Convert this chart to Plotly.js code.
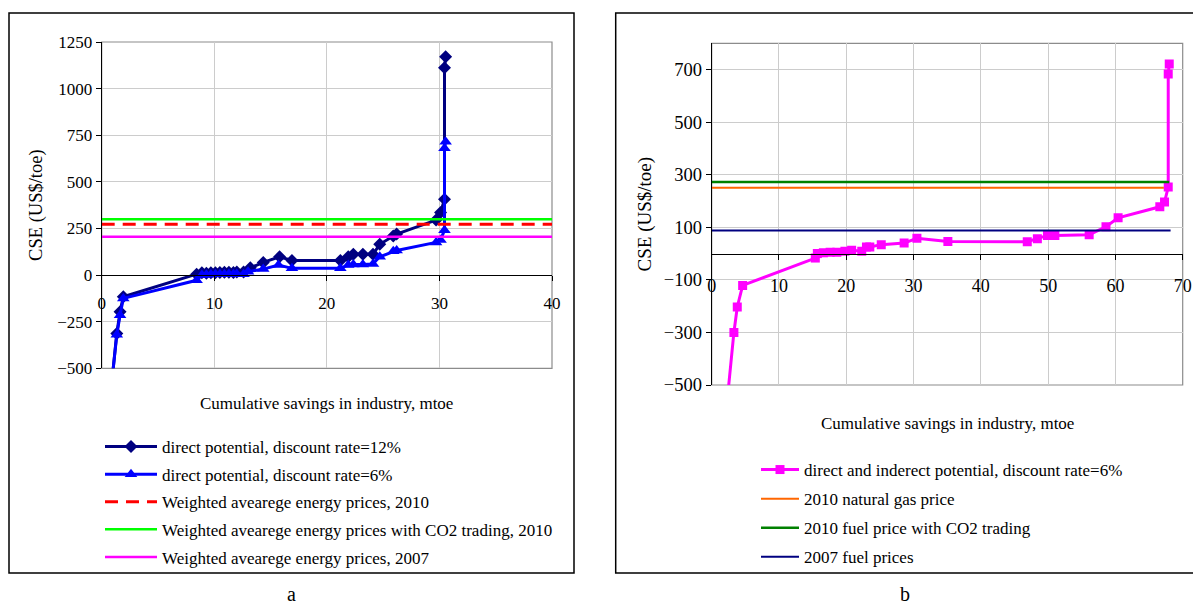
<!DOCTYPE html>
<html>
<head>
<meta charset="utf-8">
<script src="https://cdn.plot.ly/plotly-3.0.1.min.js"></script>
<style>html,body{margin:0;padding:0;background:#fff}#chart{width:1193px;height:607px}</style>
</head>
<body>
<div id="chart"></div>
<script>
// ---------- Data: chart a ----------
const xDirect12 = [0.92, 1.34, 1.63, 1.92, 8.43, 8.9, 9.3, 9.7, 10.1, 10.5, 10.9, 11.3, 11.7, 12.0, 12.6, 13.2, 14.35, 15.8, 16.9, 21.2, 21.9, 22.35, 23.2, 24.1, 24.7, 25.9, 26.2, 29.7, 30.1, 30.45, 30.45, 30.55];
const yDirect12 = [-560, -313, -197, -116, 5, 12, 10, 12, 13, 14, 15, 15, 14, 17, 16, 39, 68, 98, 78, 78, 98, 111, 111, 111, 165, 210, 220, 295, 336, 406, 1112, 1171];
const xDirect6 = [0.92, 1.34, 1.63, 1.92, 8.43, 8.9, 9.3, 9.7, 10.1, 10.5, 10.9, 11.3, 11.7, 12.0, 12.6, 13.0, 14.35, 15.7, 16.9, 21.2, 21.9, 22.35, 23.2, 24.1, 24.7, 25.9, 26.2, 29.7, 30.1, 30.45, 30.45, 30.55];
const yDirect6 = [-560, -320, -215, -125, -28, 0, 2, 3, 4, 5, 5, 6, 5, 6, 5, 18, 32, 54, 36, 36, 54, 57, 57, 60, 98, 128, 132, 175, 188, 241, 680, 715];
const xPriceA = [0, 40.5];
const yPrice2010 = [272, 272];
const yPriceCO2_2010 = [300, 300];
const yPrice2007 = [205, 205];
const namesA = ["direct potential, discount rate=12%", "direct potential, discount rate=6%", "Weighted avearege energy prices, 2010", "Weighted avearege energy prices with CO2 trading, 2010", "Weighted avearege energy prices, 2007"];

// ---------- Data: chart b ----------
const xIndirect6 = [2.3, 3.3, 3.8, 4.6, 15.4, 15.7, 16.6, 17.6, 18.6, 19.8, 20.8, 22.3, 23.0, 23.5, 25.2, 28.6, 30.5, 35.1, 46.9, 48.4, 49.9, 51.0, 56.1, 58.6, 60.4, 66.6, 67.3, 67.85, 67.85, 68.0];
const yIndirect6 = [-560, -300, -203, -121, -17, 0, 3, 5, 5, 9, 13, 9, 25, 25, 34, 40, 58, 46, 45, 56, 69, 69, 72, 102, 136, 178, 196, 253, 683, 721];
const xGas2010 = [0, 67.2];
const yGas2010 = [250, 250];
const xFuelCO2 = [0, 68];
const yFuelCO2 = [272, 272];
const xFuel2007 = [0, 68.2];
const yFuel2007 = [88, 88];
const namesB = ["direct and inderect potential, discount rate=6%", "2010 natural gas price", "2010 fuel price with CO2 trading", "2007 fuel prices"];

// axis ticks
const yTicksA = [-500, -250, 0, 250, 500, 750, 1000, 1250];
const yTicksB = [-500, -300, -100, 100, 300, 500, 700];
const xTitle = 'Cumulative savings in industry, mtoe';
const yTitle = 'CSE (US$/toe)';

// ---------- Layout helpers ----------
const W = 1193, H = 607;
const FONT = '"Liberation Serif", "Times New Roman", Times, serif';
const px = v => v / W;
const py = v => 1 - v / H;

const xRangeA = [0, 40], yRangeA = [-500, 1250];
const xRangeB = [0, 70], yRangeB = [-500, 800];
const xDomA = [px(101.7), px(552)], yDomA = [py(368.3), py(42)];
const xDomB = [px(711.7), px(1182.7)], yDomB = [py(385), py(43.3)];
const zeroPos = (dom, rng) => dom[0] + (0 - rng[0]) / (rng[1] - rng[0]) * (dom[1] - dom[0]);
const mid = d => (d[0] + d[1]) / 2;

const traces = [
  {x: xDirect12, y: yDirect12, xaxis: 'x', yaxis: 'y', mode: 'lines+markers', name: namesA[0],
   line: {color: '#000080', width: 3}, marker: {symbol: 'diamond', size: 10, color: '#000080'},
   legend: 'legend', legendgroup: 'a1'},
  {x: xDirect6, y: yDirect6, xaxis: 'x', yaxis: 'y', mode: 'lines+markers', name: namesA[1],
   line: {color: '#0000FF', width: 3}, marker: {symbol: 'triangle-up', size: 11, color: '#0000FF'},
   legend: 'legend', legendgroup: 'a2'},
  {x: xPriceA, y: yPrice2010, xaxis: 'x', yaxis: 'y', mode: 'lines', name: namesA[2],
   line: {color: '#FF0000', width: 3, dash: '13px,8px'}, legend: 'legend', legendgroup: 'a3'},
  {x: xPriceA, y: yPriceCO2_2010, xaxis: 'x', yaxis: 'y', mode: 'lines', name: namesA[3],
   line: {color: '#00FF00', width: 2.5}, legend: 'legend', legendgroup: 'a4'},
  {x: xPriceA, y: yPrice2007, xaxis: 'x', yaxis: 'y', mode: 'lines', name: namesA[4],
   line: {color: '#FF00FF', width: 2.5}, legend: 'legend', legendgroup: 'a5'},

  {x: xIndirect6, y: yIndirect6, xaxis: 'x2', yaxis: 'y2', mode: 'lines+markers', name: namesB[0],
   line: {color: '#FF00FF', width: 3}, marker: {symbol: 'square', size: 9, color: '#FF00FF'},
   legend: 'legend2', legendgroup: 'b1'},
  {x: xGas2010, y: yGas2010, xaxis: 'x2', yaxis: 'y2', mode: 'lines', name: namesB[1],
   line: {color: '#FF6600', width: 2}, legend: 'legend2', legendgroup: 'b2'},
  {x: xFuelCO2, y: yFuelCO2, xaxis: 'x2', yaxis: 'y2', mode: 'lines', name: namesB[2],
   line: {color: '#008000', width: 2.5}, legend: 'legend2', legendgroup: 'b3'},
  {x: xFuel2007, y: yFuel2007, xaxis: 'x2', yaxis: 'y2', mode: 'lines', name: namesB[3],
   line: {color: '#000080', width: 2}, legend: 'legend2', legendgroup: 'b4'}
];

const GRID = '#cccccc';
const xAxisBase = {
  showgrid: true, gridcolor: GRID, gridwidth: 1, zeroline: false,
  showline: true, linecolor: '#000', linewidth: 1,
  ticks: 'outside', ticklen: 5, tickcolor: '#000', tickwidth: 1,
  tickfont: {family: FONT, size: 17, color: '#000'},
  automargin: false, anchor: 'free', fixedrange: true
};
const yAxisBase = {
  showgrid: true, gridcolor: GRID, gridwidth: 1, zeroline: false,
  showline: true, linecolor: '#000', linewidth: 1,
  ticks: 'outside', ticklen: 5, tickcolor: '#000', tickwidth: 1,
  automargin: false, fixedrange: true
};

const layout = {
  width: W, height: H,
  margin: {l: 0, r: 0, t: 0, b: 0, pad: 0},
  paper_bgcolor: '#fff', plot_bgcolor: 'rgba(0,0,0,0)',
  font: {family: FONT, color: '#000'},
  showlegend: true,
  xaxis: Object.assign({}, xAxisBase, {domain: xDomA, range: xRangeA, tick0: 0, dtick: 10,
    position: zeroPos(yDomA, yRangeA), ticklabelstandoff: 8}),
  yaxis: Object.assign({}, yAxisBase, {domain: yDomA, range: yRangeA, tickvals: yTicksA,
    tickfont: {family: FONT, size: 17, color: '#000'}, anchor: 'x',
    title: {text: yTitle, font: {family: FONT, size: 18.5, color: '#000'}, standoff: 9}}),
  xaxis2: Object.assign({}, xAxisBase, {domain: xDomB, range: xRangeB, tick0: 0, dtick: 10,
    position: zeroPos(yDomB, yRangeB), tickfont: {family: FONT, size: 18, color: '#000'}, ticklabelstandoff: 11}),
  yaxis2: Object.assign({}, yAxisBase, {domain: yDomB, range: yRangeB, tickvals: yTicksB,
    tickfont: {family: FONT, size: 18.5, color: '#000'}, anchor: 'x2',
    title: {text: yTitle, font: {family: FONT, size: 19, color: '#000'}, standoff: 7}}),
  legend: {x: px(100), y: py(429), xanchor: 'left', yanchor: 'top', bgcolor: 'rgba(0,0,0,0)',
    font: {family: FONT, size: 17, color: '#000'}, tracegroupgap: 2.5, itemwidth: 52, borderwidth: 0},
  legend2: {x: px(756), y: py(452), xanchor: 'left', yanchor: 'top', bgcolor: 'rgba(0,0,0,0)',
    font: {family: FONT, size: 17, color: '#000'}, tracegroupgap: 4, itemwidth: 38, borderwidth: 0},
  shapes: [
    // outer chart boxes
    {type: 'rect', xref: 'paper', yref: 'paper', x0: px(9), x1: px(574), y0: py(573), y1: py(13),
     line: {color: '#000', width: 1.5}, layer: 'below'},
    {type: 'rect', xref: 'paper', yref: 'paper', x0: px(615.7), x1: px(1196), y0: py(573), y1: py(13),
     line: {color: '#000', width: 1.5}, layer: 'below'},
    // plot area borders (grey)
    {type: 'rect', xref: 'paper', yref: 'paper', x0: xDomA[0], x1: xDomA[1], y0: yDomA[0], y1: yDomA[1],
     line: {color: '#8c8c8c', width: 1.2}, layer: 'between'},
    {type: 'rect', xref: 'paper', yref: 'paper', x0: xDomB[0], x1: xDomB[1], y0: yDomB[0], y1: yDomB[1],
     line: {color: '#8c8c8c', width: 1.2}, layer: 'between'}
  ],
  annotations: [
    {text: xTitle, xref: 'paper', yref: 'paper', x: mid(xDomA), y: py(404),
     xanchor: 'center', yanchor: 'middle', showarrow: false, font: {family: FONT, size: 17, color: '#000'}},
    {text: xTitle, xref: 'paper', yref: 'paper', x: mid(xDomB), y: py(423),
     xanchor: 'center', yanchor: 'middle', showarrow: false, font: {family: FONT, size: 17, color: '#000'}},
    {text: 'a', xref: 'paper', yref: 'paper', x: px(291), y: py(594), xanchor: 'center', yanchor: 'middle',
     showarrow: false, font: {family: FONT, size: 20, color: '#000'}},
    {text: 'b', xref: 'paper', yref: 'paper', x: px(905), y: py(594), xanchor: 'center', yanchor: 'middle',
     showarrow: false, font: {family: FONT, size: 20, color: '#000'}}
  ]
};

Plotly.newPlot('chart', traces, layout, {displayModeBar: false, staticPlot: true});
</script>
</body>
</html>
